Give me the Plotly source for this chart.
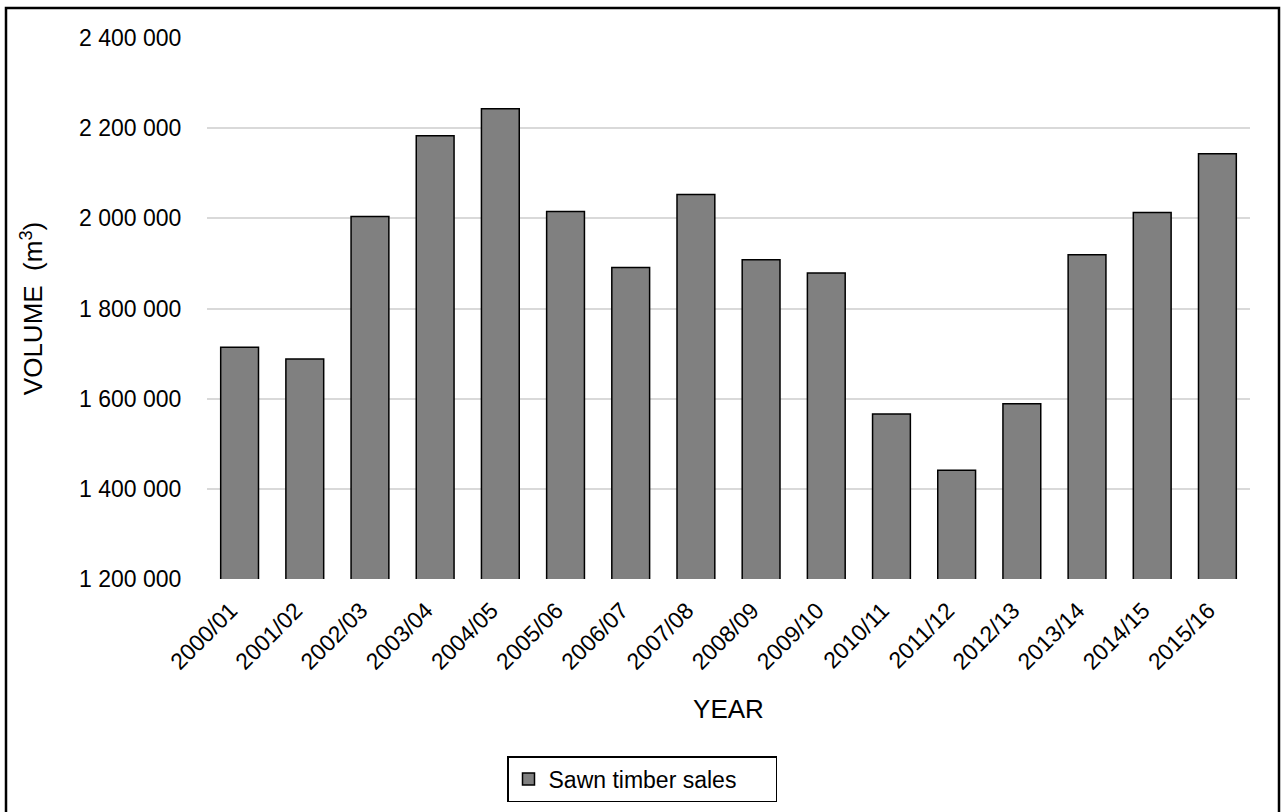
import plotly.graph_objects as go

# Sawn timber sales by financial year (m³)
years = ["2000/01", "2001/02", "2002/03", "2003/04", "2004/05", "2005/06",
         "2006/07", "2007/08", "2008/09", "2009/10", "2010/11", "2011/12",
         "2012/13", "2013/14", "2014/15", "2015/16"]
sales = [1714000, 1688000, 2004000, 2183000, 2243000, 2015000,
         1891000, 2053000, 1908000, 1879000, 1566000, 1441000,
         1589000, 1919000, 2013000, 2143000]

y_ticks = [1200000, 1400000, 1600000, 1800000, 2000000, 2200000, 2400000]
y_tick_labels = [f"{v:,}".replace(",", " ") for v in y_ticks]

FONT = "Liberation Sans, Arial, sans-serif"
W, H = 1283, 812
L, R, T, B = 207, 33, 38, 233

fig = go.Figure()
fig.add_trace(go.Bar(
    x=years, y=sales, name="Sawn timber sales",
    marker=dict(color="#808080", line=dict(color="#000000", width=1.5)),
))

# frame around the whole chart, expressed in paper coordinates
pw, ph = W - L - R, H - T - B
def px_to_paper_x(px):
    return (px - L) / pw
def px_to_paper_y(py):
    return (H - B - py) / ph

fig.add_shape(type="rect", xref="paper", yref="paper",
              x0=px_to_paper_x(6), x1=px_to_paper_x(1279),
              y0=px_to_paper_y(814), y1=px_to_paper_y(8),
              line=dict(color="#000000", width=2.5), layer="above")

fig.update_layout(
    width=W, height=H,
    margin=dict(l=L, r=R, t=T, b=B, autoexpand=False),
    paper_bgcolor="white", plot_bgcolor="white",
    font=dict(family=FONT, size=23, color="#000000"),
    bargap=0.42,
    showlegend=True,
    legend=dict(
        x=px_to_paper_x(642), xanchor="center",
        y=px_to_paper_y(756), yanchor="top",
        orientation="h",
        entrywidth=222, entrywidthmode="pixels",
        bordercolor="#000000", borderwidth=1.5,
        font=dict(family=FONT, size=23, color="#000000"),
        bgcolor="white",
    ),
    xaxis=dict(
        type="category",
        tickangle=-45,
        ticks="outside", ticklen=8, tickcolor="rgba(0,0,0,0)",
        ticklabelshift=-9,
        showline=False, showgrid=False,
        tickfont=dict(family=FONT, size=23, color="#000000"),
        title=dict(text="YEAR", font=dict(family=FONT, size=26, color="#000000"),
                   standoff=26),
    ),
    yaxis=dict(
        range=[1200000, 2400000],
        tickvals=y_ticks, ticktext=y_tick_labels,
        ticks="outside", ticklen=20, tickcolor="rgba(0,0,0,0)",
        showgrid=True, gridcolor="#d9d9d9", gridwidth=1.5,
        zeroline=False, showline=False,
        tickfont=dict(family=FONT, size=23, color="#000000"),
        title=dict(text="VOLUME  (m<sup>3</sup>)",
                   font=dict(family=FONT, size=26, color="#000000"),
                   standoff=28),
    ),
)

fig.write_html("out.html")
